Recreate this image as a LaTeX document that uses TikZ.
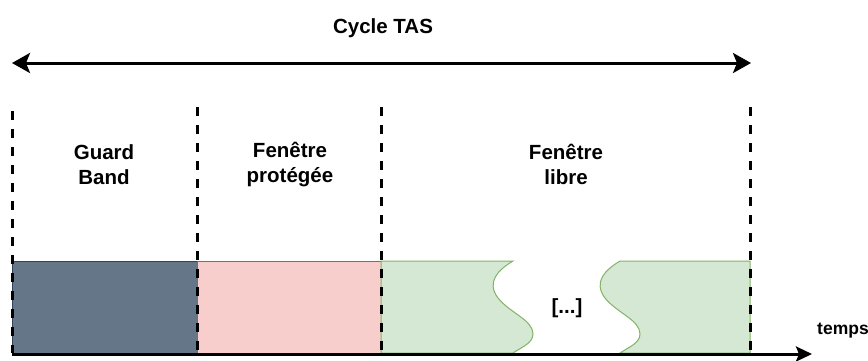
\documentclass[tikz,border=0pt]{standalone}
\usepackage{fontspec}
\setmainfont{Liberation Sans}
\usetikzlibrary{arrows.meta}
\definecolor{gbfill}{HTML}{647687}
\definecolor{gbdraw}{HTML}{314354}
\definecolor{pfill}{HTML}{F8CECC}
\definecolor{pdraw}{HTML}{B85450}
\definecolor{lfill}{HTML}{D5E8D4}
\definecolor{ldraw}{HTML}{82B366}
\tikzset{
  lbl/.style={font=\bfseries\fontsize{20.5}{25}\selectfont, align=center, inner sep=0pt},
  sep/.style={line width=3pt, dash pattern=on 8.5pt off 9.5pt},
}
\begin{document}
\begin{tikzpicture}[x=1pt,y=-1pt]
\useasboundingbox (0,0) rectangle (868,360);
% blocks
\fill[gbfill,draw=gbdraw,line width=1pt] (12,261) rectangle (197,353);
\fill[pfill,draw=pdraw,line width=1pt] (197,261) rectangle (381,353);
\path[fill=lfill,draw=ldraw,line width=1pt] (381,261) -- (513,261)
  .. controls (498,270) and (486,282) .. (498,298)
  .. controls (510,313) and (533,320) .. (533,334)
  .. controls (533,343) and (522,347) .. (513,353) -- (381,353) -- cycle;
\path[fill=lfill,draw=ldraw,line width=1pt] (750,261) -- (620,261)
  .. controls (605,270) and (593,282) .. (605,298)
  .. controls (617,313) and (640,320) .. (640,334)
  .. controls (640,343) and (629,347) .. (620,353) -- (750,353) -- cycle;
% separators
\coordinate (s1t) at (12,111); \coordinate (s1b) at (12,353);
\coordinate (s2t) at (197,107); \coordinate (s2b) at (197,353);
\coordinate (s3t) at (381,107); \coordinate (s3b) at (381,353);
\coordinate (s4t) at (750,107); \coordinate (s4b) at (750,353);
\draw[sep] (s1t) -- (s1b);
\draw[sep] (s2t) -- (s2b);
\draw[sep] (s3t) -- (s3b);
\draw[sep] (s4t) -- (s4b);
% top arrow
\coordinate (cl) at (12,63); \coordinate (cr) at (751,63);
\draw[line width=3pt, {Triangle[length=18pt,width=20pt,inset=4pt]}-{Triangle[length=18pt,width=20pt,inset=4pt]}] (cl) -- (cr);
\node[lbl] (cyc) at (383,28) {Cycle TAS};
% time axis
\coordinate (a0) at (12,354); \coordinate (a1) at (812,354);
\draw[line width=3pt, -{Triangle[length=16pt,width=15pt,inset=3pt]}] (a0) -- (a1);
\node[font=\bfseries\fontsize{17.5}{21}\selectfont, anchor=west, inner sep=0pt] (tps) at (817,331) {temps};
% labels
\node[lbl] (gb) at (104,164.5) {Guard\\Band};
\node[lbl] (fp) at (290,164.5) {Fenêtre\\protégée};
\node[lbl] (fl) at (566,164.5) {Fenêtre\\libre};
\node[lbl] (dots) at (567,308) {[...]};
\end{tikzpicture}
\end{document}
